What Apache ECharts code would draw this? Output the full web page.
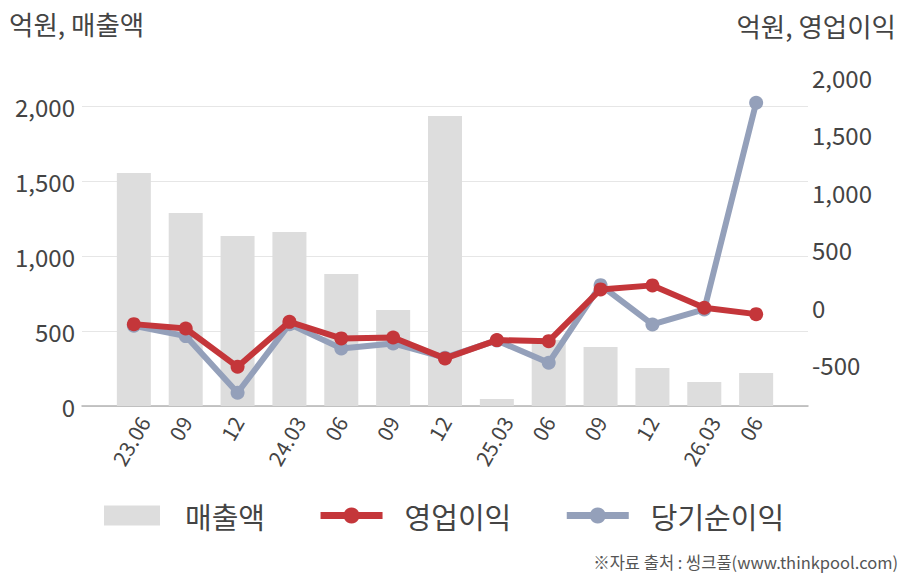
<!DOCTYPE html>
<html>
<head>
<meta charset="utf-8">
<script src="https://cdn.jsdelivr.net/npm/echarts@6/dist/echarts.min.js"></script>
<style>
html,body{margin:0;padding:0;background:#fff;}
#chart{width:908px;height:580px;}
</style>
</head>
<body>
<div id="chart"></div>
<script>
const categories = ['23.06','09','12','24.03','06','09','12','25.03','06','09','12','26.03','06'];
const sales = [1553, 1287, 1133, 1160, 880, 640, 1933, 47, 440, 393, 253, 160, 220];
const operatingProfit = [-148, -186, -519, -128, -272, -264, -446, -287, -296, 154, 189, -6, -61];
const netProfit = [-162, -252, -745, -148, -359, -316, -440, -290, -484, 191, -151, -20, 1777];
const leftTicks = [0, 500, 1000, 1500, 2000];
const rightTicks = [-500, 0, 500, 1000, 1500, 2000];

const FONT = '"Noto Sans CJK KR", "Noto Sans", sans-serif';
const pad = arr => [null].concat(arr, [null]);
const fmt = v => Number(v).toLocaleString('en-US');

// long labels (with year) sit a little further right, as in the reference
const xData = [''].concat(categories.map(c => c.length > 2
  ? {value: c, textStyle: {verticalAlign: 'top', lineHeight: 17, padding: [0, -5, 0, 0]}}
  : c), ['']);

const chart = echarts.init(document.getElementById('chart'), null, {renderer: 'svg'});
chart.setOption({
  animation: false,
  backgroundColor: '#fff',
  textStyle: {fontFamily: FONT},
  grid: {left: 82, right: 100, top: 76, bottom: 174, containLabel: false},
  legend: {
    left: 99, top: 496,
    itemWidth: 62, itemHeight: 20, itemGap: 52,
    symbolKeepAspect: true,
    textStyle: {fontSize: 29, color: '#444', fontFamily: FONT, padding: [0, 0, 0, 17]},
    data: [
      {name: '매출액', icon: 'path://M0,0h56v20h-56z'},
      {name: '영업이익', lineStyle: {width: 7}},
      {name: '당기순이익', lineStyle: {width: 7}}
    ]
  },
  xAxis: {
    type: 'category',
    boundaryGap: false,
    data: xData,
    axisLine: {lineStyle: {color: '#b4b4b4', width: 1.5}},
    axisTick: {show: false},
    axisLabel: {rotate: 60, fontSize: 21, color: '#444', margin: 12, interval: 0, fontFamily: FONT},
    splitLine: {show: false}
  },
  yAxis: [
    {
      type: 'value', min: 0, max: 2200, position: 'left',
      axisLine: {show: false}, axisTick: {show: false, customValues: leftTicks},
      axisLabel: {customValues: leftTicks, formatter: fmt, fontSize: 24, color: '#444', margin: 7, fontFamily: FONT},
      splitLine: {show: true, lineStyle: {color: '#e6e6e6', width: 1}}
    },
    {
      type: 'value', min: -860, max: 2010, position: 'right',
      axisLine: {show: false}, axisTick: {show: false, customValues: rightTicks},
      axisLabel: {customValues: rightTicks, formatter: fmt, fontSize: 24, color: '#444', margin: 4, fontFamily: FONT},
      splitLine: {show: false}
    }
  ],
  graphic: [
    {type: 'text', left: 9, top: 10, style: {text: '억원, 매출액', fontSize: 26.5, fill: '#444', fontFamily: FONT}},
    {type: 'text', right: 12, top: 12, style: {text: '억원, 영업이익', fontSize: 26.5, fill: '#444', fontFamily: FONT}},
    {type: 'text', right: 10, top: 554, style: {text: '※자료 출처 : 씽크풀(www.thinkpool.com)', fontSize: 16.5, fill: '#555', fontFamily: FONT}}
  ],
  series: [
    {
      name: '매출액', type: 'bar', yAxisIndex: 0, barWidth: 34,
      itemStyle: {color: '#dddddd'}, z: 1,
      data: pad(sales)
    },
    {
      name: '당기순이익', type: 'line', yAxisIndex: 1, z: 3,
      symbol: 'circle', symbolSize: 14,
      lineStyle: {color: '#94a0ba', width: 6},
      itemStyle: {color: '#94a0ba'},
      data: pad(netProfit)
    },
    {
      name: '영업이익', type: 'line', yAxisIndex: 1, z: 4,
      symbol: 'circle', symbolSize: 14,
      lineStyle: {color: '#c4363a', width: 6},
      itemStyle: {color: '#c4363a'},
      data: pad(operatingProfit)
    }
  ]
});
</script>
</body>
</html>
